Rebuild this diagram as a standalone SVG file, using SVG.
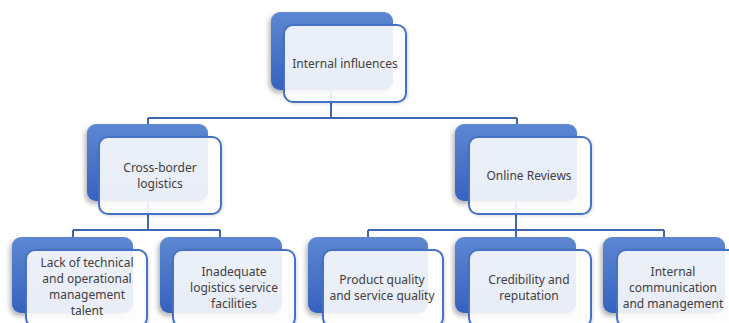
<svg xmlns="http://www.w3.org/2000/svg" width="729" height="323" viewBox="0 0 729 323">
<defs>
<linearGradient id="g" x1="0" y1="0" x2="0" y2="1">
<stop offset="0" stop-color="#5E88D2"/>
<stop offset="1" stop-color="#3562BF"/>
</linearGradient>
<filter id="sh" x="-20%" y="-20%" width="140%" height="150%">
<feDropShadow dx="-2" dy="3" stdDeviation="2.5" flood-color="#000" flood-opacity="0.3"/>
</filter>
<filter id="sh2" x="-20%" y="-20%" width="140%" height="150%">
<feDropShadow dx="1" dy="1" stdDeviation="1.5" flood-color="#000" flood-opacity="0.15"/>
</filter>
</defs>
<style>
.back{fill:url(#g);filter:url(#sh);}
.front{fill:#FFFFFF;fill-opacity:0.88;stroke:#4472C4;stroke-width:2;filter:url(#sh2);}
.conn{fill:none;stroke:#3F65B0;stroke-width:2;}
text{font-family:"Noto Sans","Liberation Sans",sans-serif;font-size:12px;fill:#404040;text-anchor:middle;}
</style>
<rect width="729" height="323" fill="#FFFFFF"/>
<g id="backs">
<rect class="back" x="271" y="12" width="122" height="78" rx="9"/>
<rect class="back" x="87" y="124" width="121" height="77" rx="9"/>
<rect class="back" x="455" y="124" width="122" height="77" rx="9"/>
<rect class="back" x="12" y="237" width="121" height="76" rx="9"/>
<rect class="back" x="160" y="237" width="122" height="76" rx="9"/>
<rect class="back" x="308" y="237" width="120" height="76" rx="9"/>
<rect class="back" x="455" y="237" width="121" height="76" rx="9"/>
<rect class="back" x="603" y="237" width="122" height="76" rx="9"/>
</g>
<g id="connectors">
<path class="conn" d="M331 90 V118 M148 118 H517 M148 118 V124 M517 118 V124"/>
<path class="conn" d="M148 201 V230 M73 230 H220 M73 230 V237 M220 230 V237"/>
<path class="conn" d="M516 201 V237 M368 230 H664 M368 230 V237 M664 230 V237"/>
</g>
<g id="n-internal">
<rect class="front" x="284" y="25" width="122" height="77" rx="9"/>
<text x="345" y="68">Internal influences</text>
</g>
<g id="n-crossborder">
<rect class="front" x="99" y="137" width="122" height="77" rx="9"/>
<text x="160" y="172">Cross-border</text>
<text x="160" y="188">logistics</text>
</g>
<g id="n-reviews">
<rect class="front" x="469" y="137" width="122" height="77" rx="9"/>
<text x="529" y="180">Online Reviews</text>
</g>
<g id="n-lack">
<rect class="front" x="26" y="250" width="121" height="77" rx="9"/>
<text x="87" y="267">Lack of technical</text>
<text x="87" y="283">and operational</text>
<text x="87" y="299">management</text>
<text x="87" y="315">talent</text>
</g>
<g id="n-inadequate">
<rect class="front" x="173" y="250" width="122" height="77" rx="9"/>
<text x="234" y="276">Inadequate</text>
<text x="234" y="292">logistics service</text>
<text x="234" y="308">facilities</text>
</g>
<g id="n-product">
<rect class="front" x="323" y="250" width="120" height="77" rx="9"/>
<text x="382" y="284">Product quality</text>
<text x="382" y="300">and service quality</text>
</g>
<g id="n-credibility">
<rect class="front" x="469" y="250" width="122" height="77" rx="9"/>
<text x="529" y="284">Credibility and</text>
<text x="529" y="300">reputation</text>
</g>
<g id="n-communication">
<rect class="front" x="617" y="250" width="122" height="77" rx="9"/>
<text x="673" y="276">Internal</text>
<text x="673" y="292">communication</text>
<text x="673" y="308">and management</text>
</g>
</svg>
